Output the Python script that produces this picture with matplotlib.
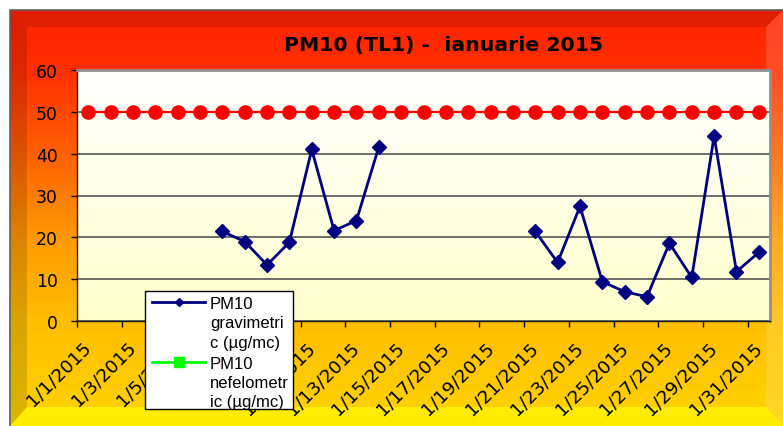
import numpy as np
import matplotlib
matplotlib.use("Agg")
import matplotlib.pyplot as plt
from matplotlib.colors import LinearSegmentedColormap
from matplotlib.patches import Polygon, Rectangle
from matplotlib.lines import Line2D
import matplotlib.transforms as mtransforms

# data (ug/mc), one value per day of January 2015
days = list(range(1, 32))
dates = ["1/%d/2015" % d for d in days]
nan = np.nan
gravimetric = [nan, nan, nan, nan, nan, nan,
               21.4, 19.0, 13.4, 18.8, 41.0, 21.6, 24.0, 41.6,
               nan, nan, nan, nan, nan, nan,
               21.4, 14.0, 27.4, 9.4, 7.0, 5.8, 18.6, 10.4, 44.2, 11.8, 16.4]
nefelometric = [nan] * 31
limit = [50] * 31

title = "PM10 (TL1) -  ianuarie 2015"
legend_grav = ["PM10", "gravimetri", "c (\u00b5g/mc)"]
legend_nefel = ["PM10", "nefelometr", "ic (\u00b5g/mc)"]

W, H = 783, 427
fig = plt.figure(figsize=(W / 100, H / 100), dpi=100)
fig.patch.set_facecolor("white")


def pixel_axes(z):
    # an invisible axes spanning the figure, in pixel coords with y down
    a = fig.add_axes([0, 0, 1, 1], zorder=z)
    a.set_xlim(0, W)
    a.set_ylim(H, 0)
    a.axis("off")
    a.patch.set_alpha(0)
    return a


bg = pixel_axes(0)

L, T, R, B = 10, 11, 783, 427
warm = LinearSegmentedColormap.from_list("warm", [
    (0.0, "#ff2200"), (0.15, "#ff3000"), (0.35, "#ff6200"),
    (0.55, "#ff9a00"), (0.75, "#ffbe00"), (1.0, "#ffd400")])
grad = np.linspace(0, 1, 256).reshape(-1, 1)
bg.imshow(grad, cmap=warm, extent=[L, R, B, T], aspect="auto", zorder=0)

# bevel edges of the chart area
w = 17
wb = 19
bg.add_patch(Polygon([(L, T), (R, T), (R - w, T + w), (L + w, T + w)],
                     closed=True, color="black", alpha=0.12, lw=0, zorder=1))
bg.add_patch(Polygon([(L, T), (L + w, T + w), (L + w, B - wb), (L, B)],
                     closed=True, color="black", alpha=0.14, lw=0, zorder=1))
bg.add_patch(Polygon([(R, T), (R, B), (R - w, B - wb), (R - w, T + w)],
                     closed=True, color="white", alpha=0.15, lw=0, zorder=1))
bg.add_patch(Polygon([(L, B), (L + w, B - wb), (R - w, B - wb), (R, B)],
                     closed=True, color="#ffff00", alpha=0.6, lw=0, zorder=1))
bg.plot([L, L, R], [B, T, T], color="#606060", lw=1.2, zorder=2)

bg.text(443, 45, title, ha="center", va="center", fontsize=14.7,
        fontweight="bold", color="black")

# plot area
x0, y0, x1, y1 = 77, 71, 770, 322
ax = fig.add_axes([x0 / W, 1 - y1 / H, (x1 - x0) / W, (y1 - y0) / H], zorder=1)
ax.set_xlim(0.5, 31.5)
ax.set_ylim(0, 60)
pale = LinearSegmentedColormap.from_list("pale", ["#ffffff", "#ffffcc"])
ax.imshow(grad, cmap=pale, extent=[0.5, 31.5, 0, 60], aspect="auto", zorder=0)

ax.set_yticks(range(0, 61, 10))
ax.yaxis.grid(True, color="#555555", lw=1.2, zorder=1)
ax.set_axisbelow(True)

ax.plot(days, limit, color="red", lw=1.6, marker="o", ms=9.5,
        mec="red", zorder=3)
ax.plot(days, gravimetric, color="#000080", lw=2, marker="D", ms=7,
        mec="#000080", zorder=4)
ax.plot(days, nefelometric, color="#00ff00", lw=2, marker="s", ms=6, zorder=4)

for s in ["top", "right"]:
    ax.spines[s].set_color("#909090")
    ax.spines[s].set_linewidth(2)
for s in ["left", "bottom"]:
    ax.spines[s].set_color("#202020")
    ax.spines[s].set_linewidth(1)

ax.tick_params(axis="y", direction="out", length=4.5, width=1,
               labelsize=12.4, pad=9.5)
ax.set_xticks(np.arange(0.5, 31, 2))
ax.set_xticklabels([])
ax.tick_params(axis="x", which="major", direction="out", length=4, width=1)
ax.set_xticks(days[::2], dates[::2], minor=True)
ax.tick_params(axis="x", which="minor", length=0, labelsize=13.2, pad=12)
shift = mtransforms.ScaledTranslation(-6 / 100, 0, fig.dpi_scale_trans)
for lbl in ax.get_xticklabels(minor=True):
    lbl.set_rotation(45)
    lbl.set_ha("right")
    lbl.set_va("top")
    lbl.set_rotation_mode("anchor")
    lbl.set_transform(lbl.get_transform() + shift)

# legend box drawn on top, in pixel coords
lg = pixel_axes(5)
lg.add_patch(Rectangle((145, 292), 148, 118, facecolor="white",
                       edgecolor="black", lw=1, zorder=5))
lg.add_line(Line2D([152, 178.5, 205], [303, 303, 303], color="#000080", lw=2,
                   marker="D", ms=4.5, markevery=[1], zorder=6))
lg.add_line(Line2D([152, 178.5, 205], [363, 363, 363], color="#00ff00", lw=2,
                   marker="s", ms=7, markevery=[1], zorder=6))
for i, txt in enumerate(legend_grav):
    lg.text(210, 303 + i * 19.5, txt, ha="left", va="center_baseline",
            fontsize=12, family="Liberation Sans", zorder=6)
for i, txt in enumerate(legend_nefel):
    lg.text(210, 363 + i * 19, txt, ha="left", va="center_baseline",
            fontsize=12, family="Liberation Sans", zorder=6)

fig.savefig("out.png", dpi=100)
